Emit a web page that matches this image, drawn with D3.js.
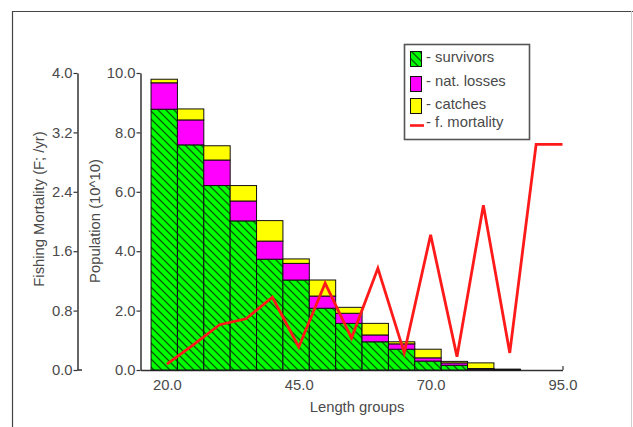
<!DOCTYPE html>
<html><head><meta charset="utf-8">
<script src="https://cdn.jsdelivr.net/npm/d3@7"></script>
<style>
html,body{margin:0;padding:0;background:#fff;}
svg{display:block;}
text{font-family:"Liberation Sans",Arial,sans-serif;}
</style></head>
<body>
<svg id="chart" width="633" height="427"></svg>
<script>
// ---- data ----
const lengthGroups = [20,25,30,35,40,45,50,55,60,65,70,75,80,85];
const survivors    = [8.78,7.58,6.21,5.02,3.73,3.03,2.08,1.57,0.95,0.70,0.30,0.16,0.03,0.01];
const natLosses    = [0.89,0.84,0.86,0.67,0.61,0.56,0.41,0.34,0.23,0.18,0.11,0.08,0.02,0.005];
const catches      = [0.12,0.37,0.48,0.52,0.69,0.15,0.54,0.20,0.39,0.07,0.29,0.05,0.19,0.015];
const mortLengths  = [20,25,30,35,40,45,50,55,60,65,70,75,80,85,90,95];
const fMortality   = [0.08,0.34,0.61,0.69,0.98,0.31,1.17,0.43,1.37,0.23,1.82,0.18,2.22,0.23,3.04,3.04];
const xTicks   = [20,45,70,95];
const popTicks = [0,2,4,6,8,10];
const fTicks   = [0,0.8,1.6,2.4,3.2,4.0];
const legendLabels = ["- survivors","- nat. losses","- catches","- f. mortality"];
const seriesColors = ["url(#hatch)","#ff00ff","#ffff00"];

const svg = d3.select("#chart");
const textCol = "#4a4a4a", axisCol = "#333";
const fs = 14.8;

// frame
svg.append("path").attr("d","M12.5,427 V11.5 H633").attr("fill","none").attr("stroke","#444").attr("stroke-width",1.2);
svg.append("line").attr("x1",631.5).attr("x2",631.5).attr("y1",11).attr("y2",427).attr("stroke","#cfcfcf");

// pattern
const defs = svg.append("defs");
const pat = defs.append("pattern").attr("id","hatch").attr("patternUnits","userSpaceOnUse")
  .attr("width",8).attr("height",8);
pat.append("rect").attr("width",8).attr("height",8).attr("fill","#00ff00");
pat.append("path").attr("d","M-2,-2 L10,10 M-2,6 L2,10 M6,-2 L10,2")
  .attr("stroke","#0b5a0b").attr("stroke-width",1.3);

// scales
const x = d3.scaleLinear().domain([15,95]).range([140.5,562.5]);
const yPop = d3.scaleLinear().domain([0,10]).range([370,73]);
const yF = d3.scaleLinear().domain([0,4]).range([370,73]);

function styleAxis(g){
  g.selectAll("path.domain").attr("stroke",axisCol).attr("stroke-width",1.5);
  g.selectAll(".tick line").attr("stroke",axisCol).attr("stroke-width",1.2);
  g.selectAll("text").attr("fill",textCol).style("font-size",fs+"px")
    .style("font-family",'"Liberation Sans",Arial,sans-serif');
}

// fishing mortality axis
const gF = svg.append("g").attr("transform","translate(77.5,0)")
  .call(d3.axisLeft(yF).tickValues(fTicks).tickFormat(d3.format(".1f")).tickSize(4).tickSizeOuter(0).tickPadding(1));
styleAxis(gF);
svg.append("line").attr("x1",77.5).attr("x2",82).attr("y1",370).attr("y2",370).attr("stroke",axisCol).attr("stroke-width",1.5);

// population axis
const gP = svg.append("g").attr("transform","translate(140.5,0)")
  .call(d3.axisLeft(yPop).tickValues(popTicks).tickFormat(d3.format(".1f")).tickSize(4).tickSizeOuter(0).tickPadding(1));
styleAxis(gP);

// x axis
const gX = svg.append("g").attr("transform","translate(0,370)")
  .call(d3.axisBottom(x).tickValues(xTicks).tickFormat(d3.format(".1f")).tickSizeInner(-4).tickSizeOuter(0).tickPadding(9));
styleAxis(gX);

// stacked bars
const rows = lengthGroups.map((L,i)=>({L, survivors:survivors[i], natLosses:natLosses[i], catches:catches[i]}));
const stack = d3.stack().keys(["survivors","natLosses","catches"])(rows);
stack.forEach((layer,k)=>{
  svg.append("g").selectAll("rect").data(layer).join("rect")
    .attr("x",d=>x(d.data.L-3))
    .attr("width",d=>x(d.data.L+2)-x(d.data.L-3))
    .attr("y",d=>yPop(d[1]))
    .attr("height",d=>yPop(d[0])-yPop(d[1]))
    .attr("fill",seriesColors[k])
    .attr("stroke","#111").attr("stroke-width",1);
});

// mortality line
const line = d3.line().x((d,i)=>x(mortLengths[i])).y(d=>yF(d));
svg.append("path").datum(fMortality).attr("d",line)
  .attr("fill","none").attr("stroke","#ff1a1a").attr("stroke-width",2.8).attr("stroke-linejoin","miter");

// axis titles
svg.append("text").attr("transform","translate(44,209) rotate(-90)")
  .attr("text-anchor","middle").attr("fill",textCol).style("font-size",fs+"px")
  .text("Fishing Mortality (F; /yr)");
svg.append("text").attr("transform","translate(100,221) rotate(-90)")
  .attr("text-anchor","middle").attr("fill",textCol).style("font-size",fs+"px")
  .text("Population (10^10)");
svg.append("text").attr("x",357).attr("y",412)
  .attr("text-anchor","middle").attr("fill",textCol).style("font-size",fs+"px")
  .text("Length groups");

// legend
const lg = svg.append("g");
lg.append("rect").attr("x",404.5).attr("y",44.5).attr("width",125).attr("height",95)
  .attr("fill","#fff").attr("stroke","#555").attr("stroke-width",1.6);
const swY = [51,76,98];
swY.forEach((yy,k)=>{
  lg.append("rect").attr("x",410.5).attr("y",yy+0.5).attr("width",11).attr("height",15)
    .attr("fill",seriesColors[k]).attr("stroke","#111").attr("stroke-width",1);
});
lg.append("line").attr("x1",410).attr("x2",424).attr("y1",125.5).attr("y2",125.5)
  .attr("stroke","#ff1a1a").attr("stroke-width",2.6);
const textY = [62,86,108.5,127];
legendLabels.forEach((t,k)=>{
  lg.append("text").attr("x",426).attr("y",textY[k]).attr("fill",textCol)
    .style("font-size",fs+"px").text(t);
});
</script>
</body></html>
